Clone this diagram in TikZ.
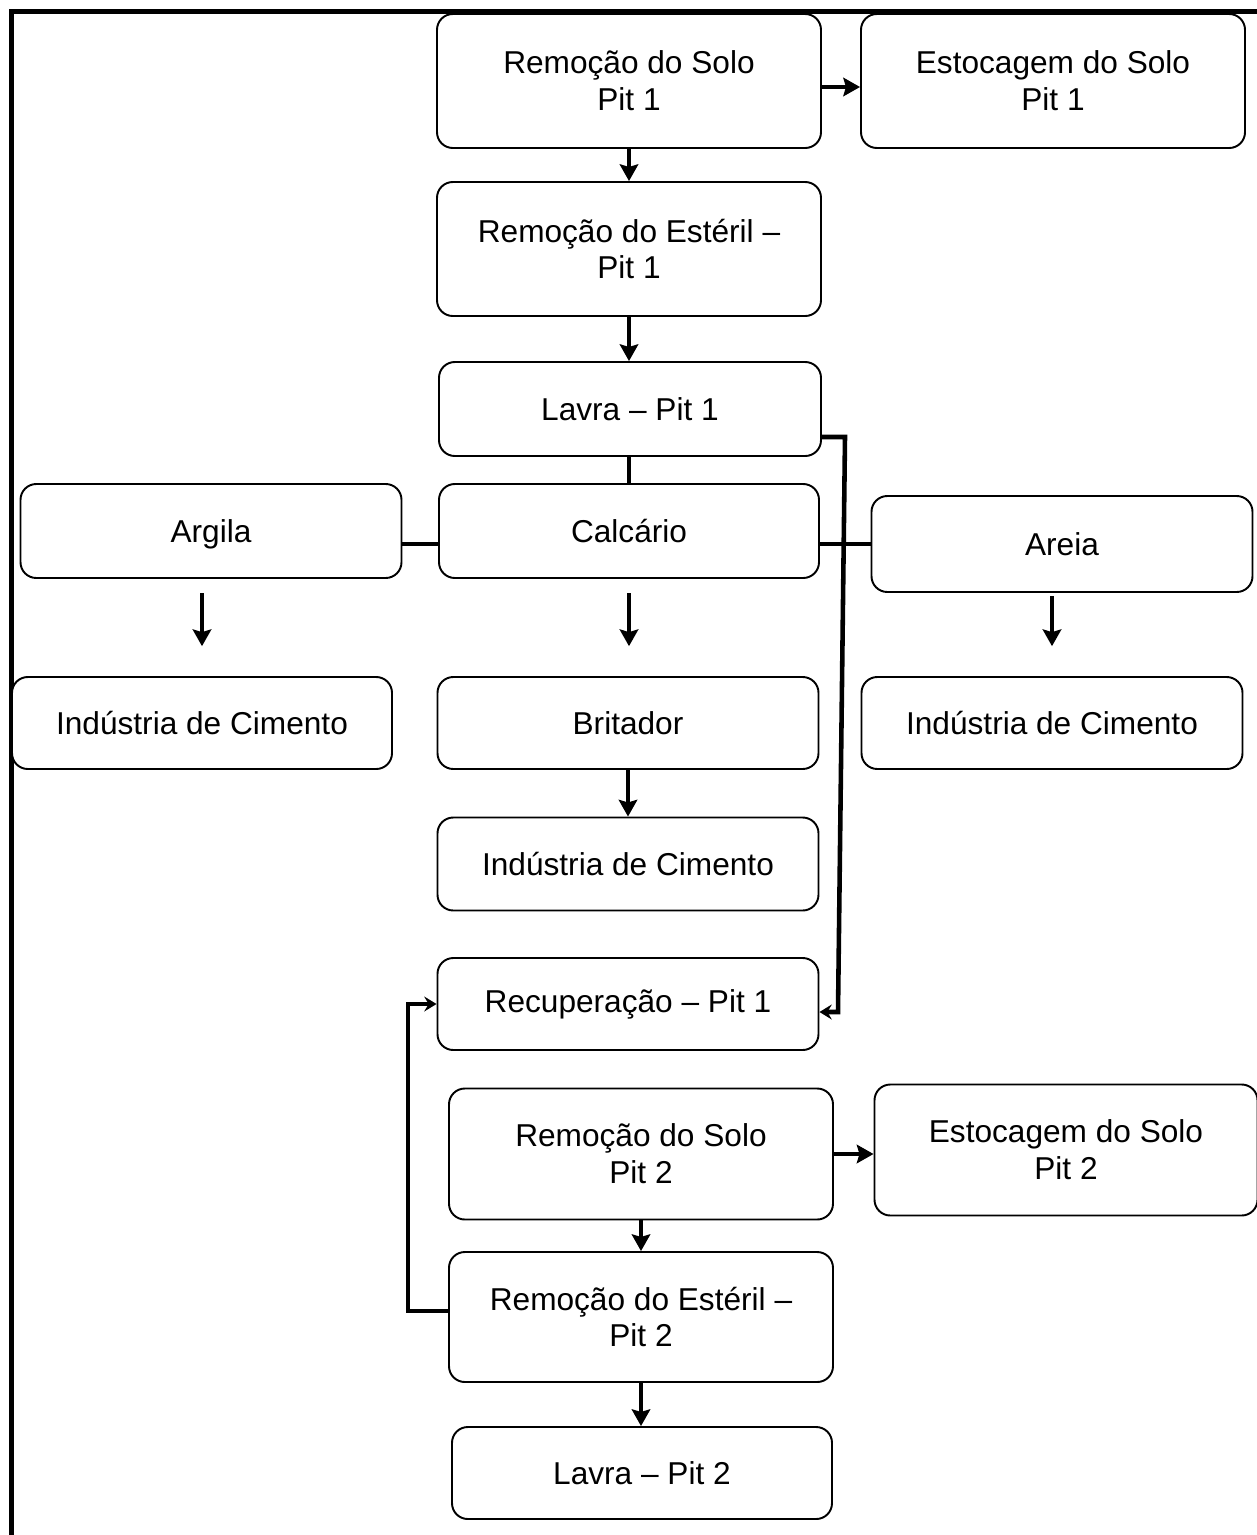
\documentclass[tikz,border=0pt]{standalone}
\usepackage{fontspec}
\setmainfont{Liberation Sans}
\usetikzlibrary{arrows.meta}
\tikzset{
  box/.style 2 args = {draw, fill=white, rounded corners=9pt,
                align=center, inner sep=0pt, line width=1.1pt,
                minimum width=#1*0.02cm, minimum height=#2*0.02cm,
                font=\fontsize{18}{21}\selectfont},
  box/.default = {381}{93},
  arrow/.style = {line width=2.6pt, -{Stealth[length=9.5pt,width=10.5pt,inset=1.5pt]}},
  back/.style  = {line width=2.6pt, -{Stealth[length=7pt,width=8.5pt,inset=2.5pt]}},
  link/.style  = {line width=2.6pt}
}

\begin{document}
\begin{tikzpicture}[x=0.02cm, y=-0.02cm]
	\useasboundingbox (0,0) rectangle (1257,1535);
	\def \gapa{8pt}
	\def \gapb{17pt}

	% Frame
	\draw[line width=2.3pt] (11.5,1535) -- (11.5,11.5) -- (1257,11.5);

	% Pit 1
	\node[box={384}{134}] (solA)     at (629,81)   {Remoção do Solo\\Pit 1};
	\node[box={384}{134}] (estocA)   at (1053,81)  {Estocagem do Solo\\Pit 1};
	\node[box={384}{134}] (esterilA) at (629,249)  {Remoção do Estéril –\\Pit 1};
	\node[box={382}{94}]  (lavraA)   at (630,409)  {Lavra – Pit 1};

	% Materials
	\node[box={381}{94}, text depth=0pt] (argila) at (211,531) {Argila};
	\node[box={380}{94}]  (calcario) at (629,531)  {Calcário};
	\node[box={381}{96}]  (areia)    at (1062,544) {Areia};

	% Destinations
	\node[box={380}{92}]  (cimArg)   at (202,723)  {Indústria de Cimento};
	\node[box={381}{92}]  (britador) at (628,723)  {Britador};
	\node[box={381}{92}]  (cimAre)   at (1052,723) {Indústria de Cimento};
	\node[box={381}{93}]  (cimCal)   at (628,864)  {Indústria de Cimento};

	% Recovery
	\node[box={381}{92}]  (recA)     at (628,1004) {Recuperação – Pit 1};

	% Pit 2
	\node[box={384}{131}] (solB)     at (641,1154) {Remoção do Solo\\Pit 2};
	\node[box={383}{131}] (estocB)   at (1066,1150) {Estocagem do Solo\\Pit 2};
	\node[box={384}{130}] (esterilB) at (641,1317) {Remoção do Estéril –\\Pit 2};
	\node[box={380}{92}]  (lavraB)   at (642,1473) {Lavra – Pit 2};

	% Bends
	\coordinate (k1) at (845,437);
	\coordinate (k2) at (838,1012);
	\coordinate (k3) at (408,1311);
	\coordinate (k4) at (408,1004);

	% Arrows (Pit 1)
	\draw[arrow] ([yshift=-0.12cm]solA.east) -- ([yshift=-0.12cm]estocA.west);
	\draw[arrow] (solA.south) -- (esterilA.north);
	\draw[arrow] (esterilA.south) -- (esterilA.south |- lavraA.north);
	\draw[link]  (lavraA.south -| solA.south) -- (calcario.north -| solA.south);

	% Links
	\draw[link] (argila.east |- areia.west) -- (calcario.west |- areia.west);
	\draw[link] (calcario.east |- areia.west) -- (areia.west);

	% Arrows (materials)
	\draw[arrow, shorten <=\gapa, shorten >=\gapb] (argila.south -| cimArg.north) -- (cimArg.north);
	\draw[arrow, shorten <=\gapa, shorten >=\gapb] (calcario.south) -- (calcario.south |- britador.north);
	\draw[arrow, shorten <=2pt, shorten >=\gapb] (areia.south -| cimAre.north) -- (cimAre.north);
	\draw[arrow] (britador.south) -- (cimCal.north);

	% Recovery arrows
	\draw[back] (lavraA.east |- k1) -- (k1) -- (k2) -- (recA.east |- k2);
	\draw[back] (esterilB.west |- k3) -- (k3) -- (k4) -- (recA.west |- k4);

	% Arrows (Pit 2)
	\draw[arrow] (solB.east) -- (solB.east -| estocB.west);
	\draw[arrow] (solB.south) -- (esterilB.north);
	\draw[arrow] (esterilB.south) -- (esterilB.south |- lavraB.north);

\end{tikzpicture}
\end{document}
